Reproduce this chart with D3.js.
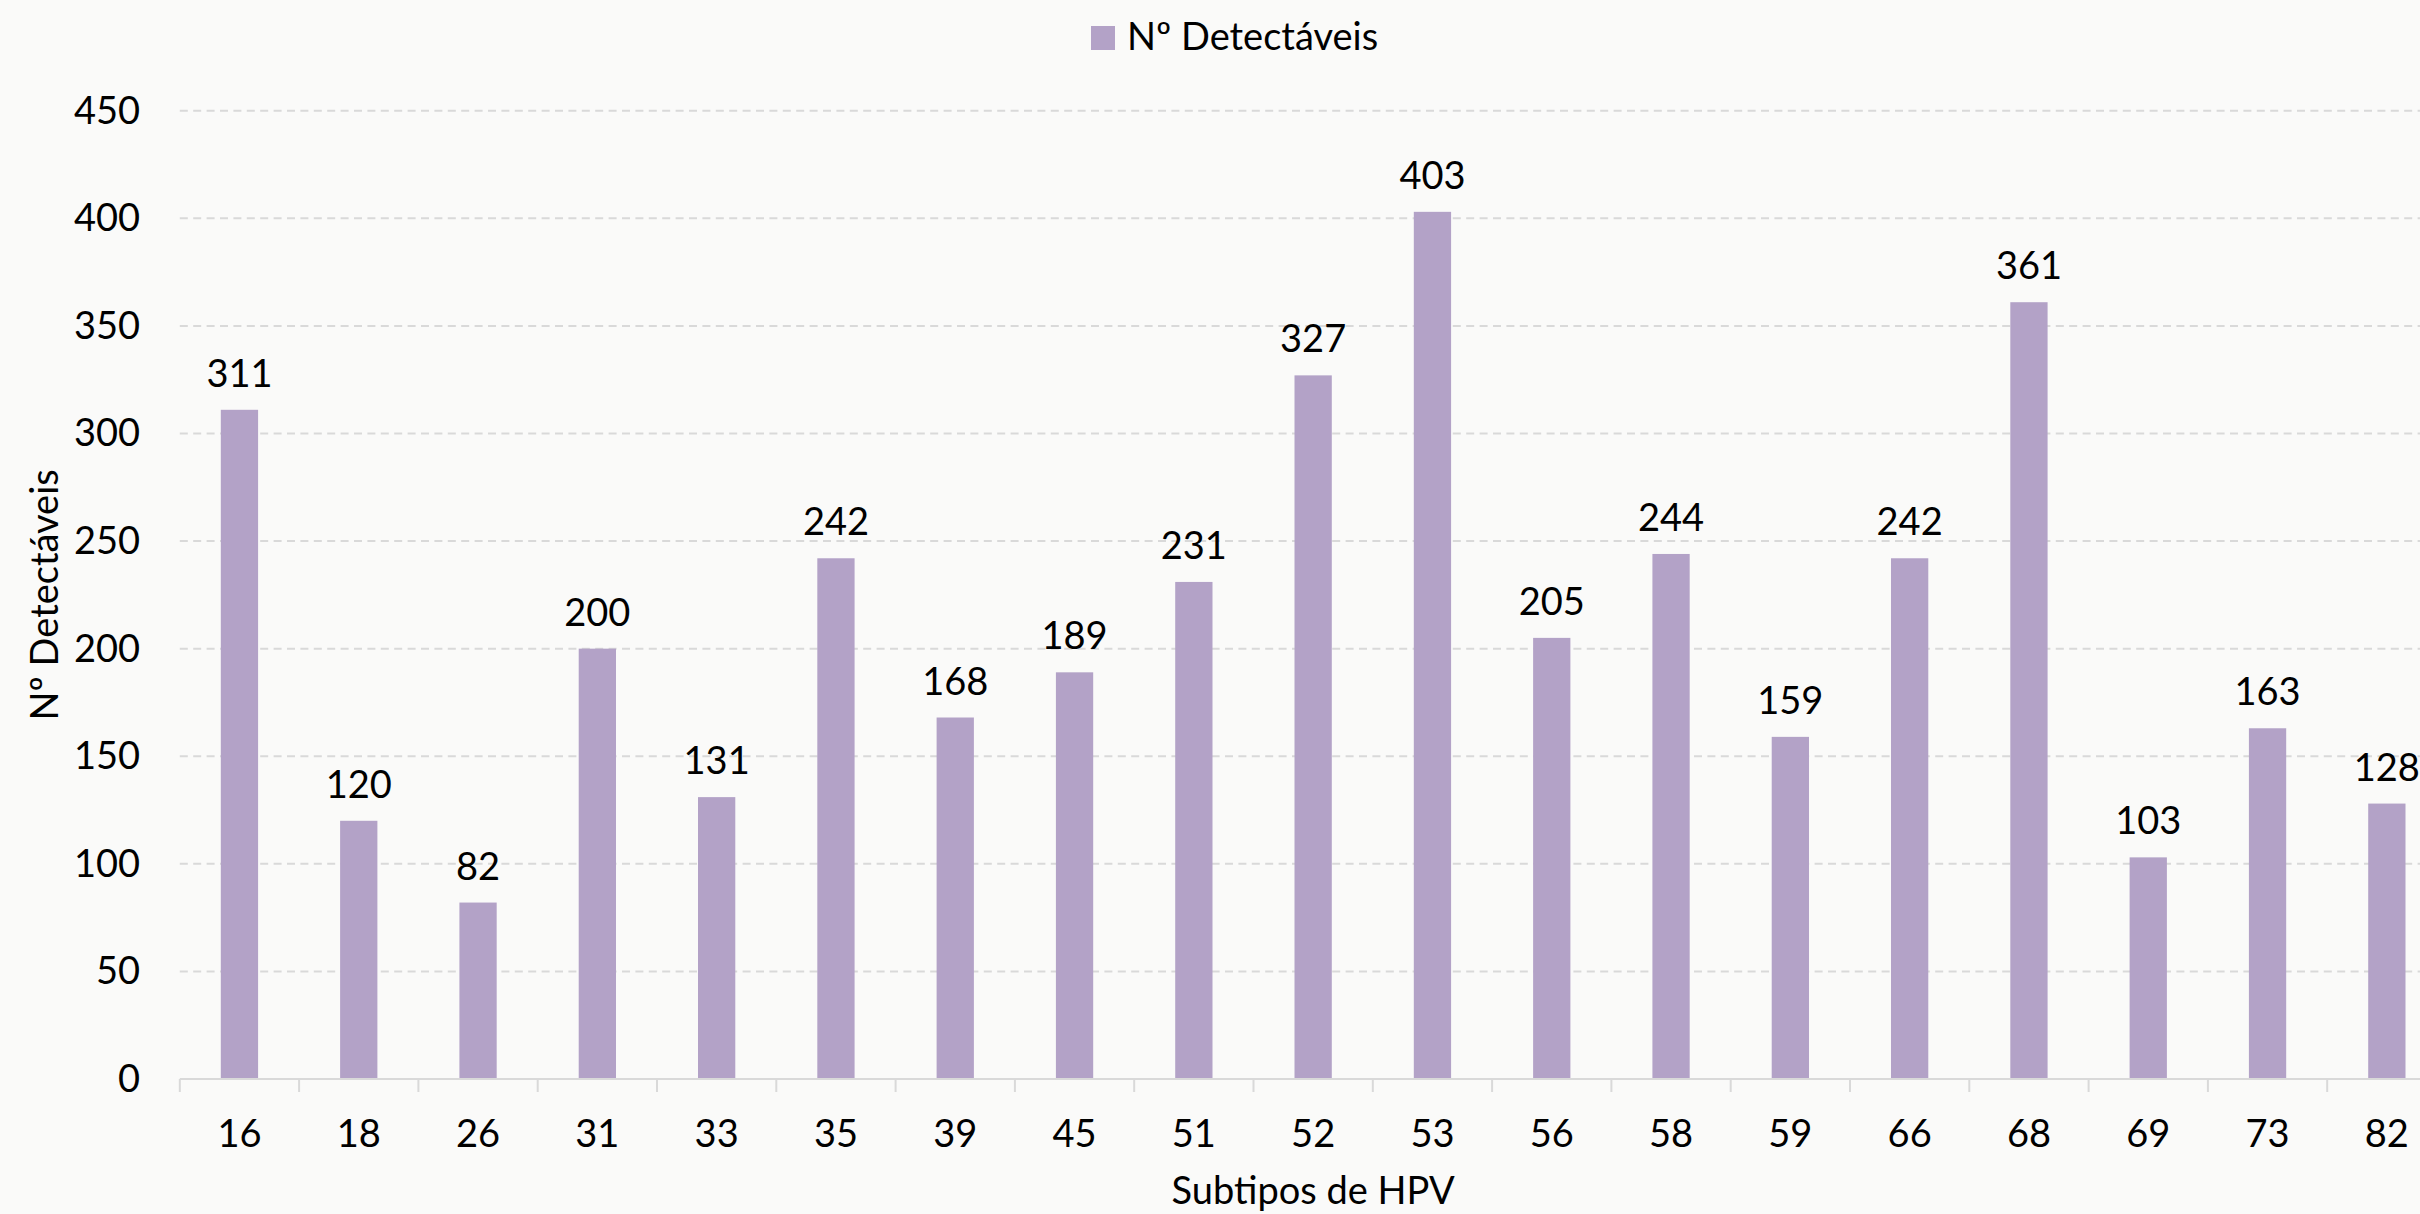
<!DOCTYPE html>
<html>
<head>
<meta charset="utf-8">
<script src="https://cdn.jsdelivr.net/npm/d3@7"></script>
<style>
html,body{margin:0;padding:0;background:#fafaf9;}
svg{display:block;}
text{font-family:Lato,"Open Sans",sans-serif;fill:#000;}
</style>
</head>
<body>
<script>
const categories = ["16","18","26","31","33","35","39","45","51","52","53","56","58","59","66","68","69","73","82"];
const values = [311,120,82,200,131,242,168,189,231,327,403,205,244,159,242,361,103,163,128];
const yTicks = [0,50,100,150,200,250,300,350,400,450];
const seriesName = "Nº Detectáveis";
const xTitle = "Subtipos de HPV";
const yTitle = "Nº Detectáveis";

const W = 2420, H = 1214;
const left = 179.8, step = 119.3;
const right = left + step * categories.length;
const y0 = 1079, yTop = 110.7;
const fs = 38;

const svg = d3.select("body").append("svg").attr("width", W).attr("height", H);
svg.append("rect").attr("width", W).attr("height", H).attr("fill", "#fafaf9");

const x = d3.scaleBand().domain(categories).range([left, right]).paddingInner(0.6875).paddingOuter(0.34375);
const xb = d3.scaleBand().domain(categories).range([left, right]);
const y = d3.scaleLinear().domain([0, 450]).range([y0, yTop]);

// gridlines
svg.append("g").selectAll("line").data(yTicks.filter(d => d > 0)).join("line")
  .attr("x1", left).attr("x2", right)
  .attr("y1", d => y(d)).attr("y2", d => y(d))
  .attr("stroke", "#d9d9d9").attr("stroke-width", 2).attr("stroke-dasharray", "8,5.4");

// bars
svg.append("g").selectAll("rect").data(values).join("rect")
  .attr("x", (d, i) => x(categories[i]))
  .attr("width", x.bandwidth())
  .attr("y", d => y(d))
  .attr("height", d => y0 - y(d))
  .attr("fill", "#b3a2c7");

// value labels
svg.append("g").selectAll("text").data(values).join("text")
  .attr("x", (d, i) => x(categories[i]) + x.bandwidth() / 2)
  .attr("y", d => y(d) - 23)
  .attr("text-anchor", "middle")
  .attr("font-size", fs)
  .text(d => d);

// x axis
const xAxisG = svg.append("g");
xAxisG.append("line").attr("x1", left).attr("x2", right).attr("y1", y0).attr("y2", y0)
  .attr("stroke", "#d9d9d9").attr("stroke-width", 2);
const bounds = categories.map(c => xb(c)).concat([right]);
xAxisG.selectAll("line.tk").data(bounds).join("line").attr("class", "tk")
  .attr("x1", d => d).attr("x2", d => d).attr("y1", y0).attr("y2", y0 + 13)
  .attr("stroke", "#d9d9d9").attr("stroke-width", 2);
xAxisG.selectAll("text").data(categories).join("text")
  .attr("x", d => xb(d) + xb.bandwidth() / 2)
  .attr("y", 1147)
  .attr("text-anchor", "middle")
  .attr("font-size", fs)
  .text(d => d);

// y axis labels
svg.append("g").selectAll("text").data(yTicks).join("text")
  .attr("x", 140)
  .attr("y", d => y(d) + 13)
  .attr("text-anchor", "end")
  .attr("font-size", fs)
  .text(d => d);

// axis titles
svg.append("text").attr("x", (left + right) / 2).attr("y", 1204)
  .attr("text-anchor", "middle").attr("font-size", fs).text(xTitle);
svg.append("text").attr("transform", `translate(58,${(y0 + yTop) / 2}) rotate(-90)`)
  .attr("text-anchor", "middle").attr("font-size", fs).text(yTitle);

// legend
const lg = svg.append("g");
lg.append("rect").attr("x", 1091).attr("y", 26).attr("width", 24).attr("height", 24).attr("fill", "#b3a2c7");
lg.append("text").attr("x", 1127).attr("y", 50).attr("font-size", fs).text(seriesName);
</script>
</body>
</html>
